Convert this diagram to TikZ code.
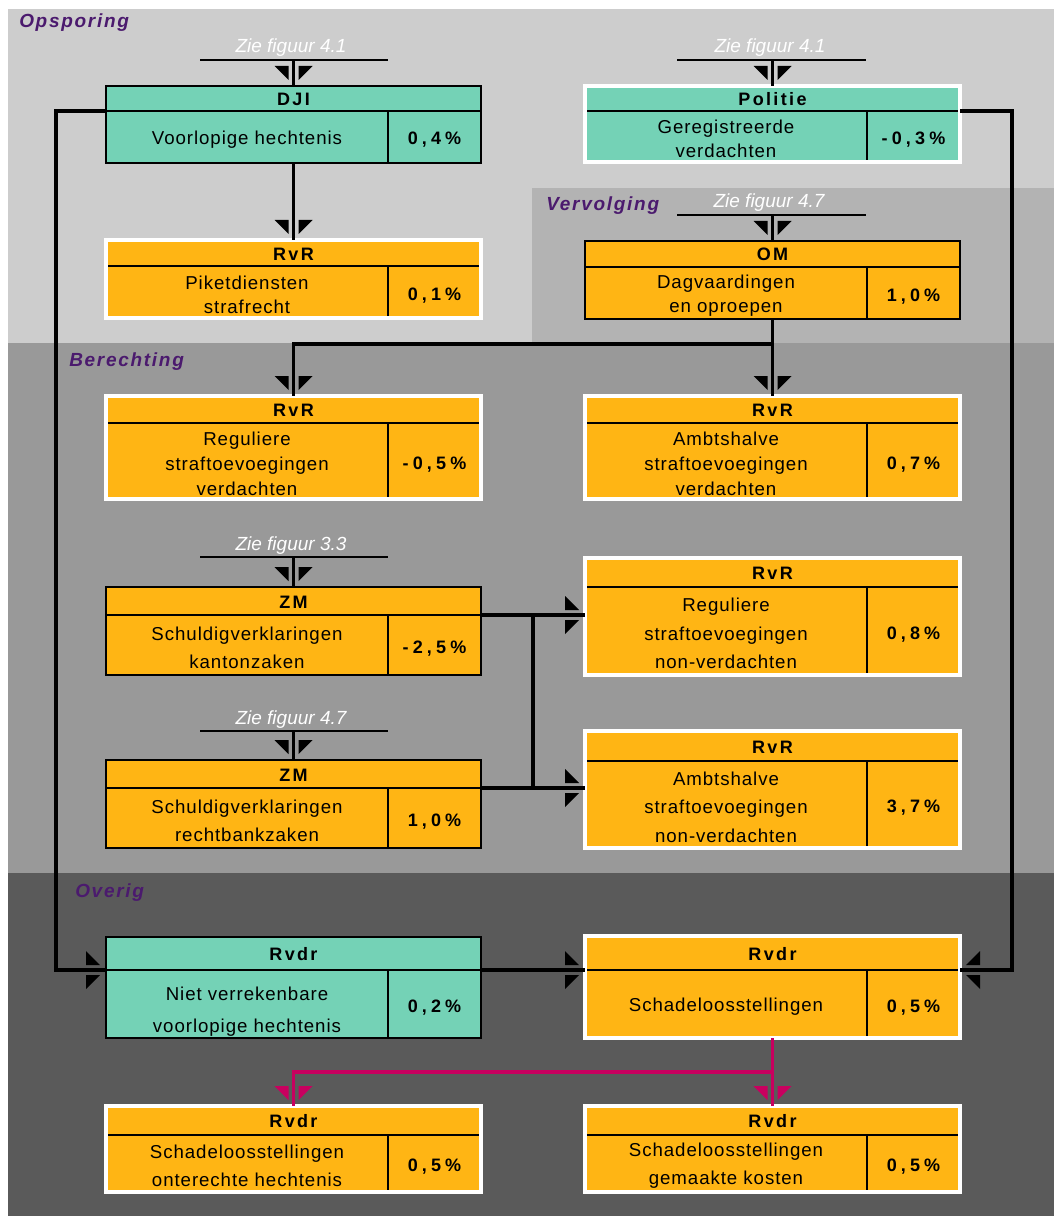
\documentclass[tikz,border=0pt]{standalone}
\usepackage{fontspec}
\setmainfont{Liberation Sans}
\newfontfamily\bodyfont[LetterSpace=5]{Liberation Sans}
\newfontfamily\headfont[LetterSpace=13]{Liberation Sans}
\newfontfamily\pctfont[LetterSpace=23]{Liberation Sans}
\newfontfamily\secfont[LetterSpace=9]{Liberation Sans}
\newfontfamily\ziefont{Liberation Sans}
\definecolor{grn}{HTML}{74D2B6}
\definecolor{org}{HTML}{FFB514}
\definecolor{bgA}{HTML}{CDCDCD}
\definecolor{bgB}{HTML}{B3B3B3}
\definecolor{bgC}{HTML}{999999}
\definecolor{bgD}{HTML}{5A5A5A}
\definecolor{purp}{HTML}{4B1A6E}
\definecolor{mag}{HTML}{C8005F}

\tikzset{
  wire/.style={line width=2.8pt, black},
  mwire/.style={line width=2.6pt, mag},
  zieline/.style={line width=1.5pt, black},
  innerline/.style={line width=1.7pt, black},
  blackborder/.style={line width=1.8pt, black},
  whiteborder/.style={line width=3pt, white},
  headtxt/.style={font=\headfont\bfseries\fontsize{13.5}{16}\selectfont, anchor=base, inner sep=0pt},
  pcttxt/.style={font=\pctfont\bfseries\fontsize{13.5}{16}\selectfont, anchor=base, inner sep=0pt},
  bodytxt/.style={font=\bodyfont\fontsize{14}{#1}\selectfont, align=center, inner sep=0pt},
  zietxt/.style={font=\ziefont\itshape\fontsize{14.25}{16}\selectfont, white, anchor=base, inner sep=0pt},
  sectxt/.style={font=\secfont\bfseries\itshape\fontsize{14.25}{16}\selectfont, purp, anchor=base west, inner sep=0pt},
  splitarrow/.pic={
    \fill (-20,5) -- (-20,19) -- (-6,5) -- cycle;
    \fill (-20,-5) -- (-20,-19) -- (-6,-5) -- cycle;
  },
}

\newcommand\flowbox[9]{%
  \node[fill=#6, inner sep=0pt, outer sep=0pt, anchor=north west,
        minimum width=281.25pt, minimum height={(#5-#3)*0.75pt}] (#1) at (#2,#3) {};
  \coordinate (#1-hw) at (#2,#4);
  \coordinate (#1-he) at ({#2+375},#4);
  \draw[innerline] (#1-hw) -- (#1-he);
  \draw[innerline] ({#2+282},#4) -- ({#2+282},#5);
  \draw[#7] (#1.north west) rectangle (#1.south east);
  \node[headtxt] (#1-t) at ({#2+187.5},{(#3+#4)/2+7}) {#8};
  \node[pcttxt] (#1-p) at ({#2+328.5},{(#4+#5)/2+8}) {#9};
}
\newcommand\flowbody[6]{%
  \node[bodytxt=#5] (#1-b) at ({#2+141},{(#3+#4)/2+2.5}) {#6};
}

\begin{document}
\begin{tikzpicture}[x=0.75pt, y=-0.75pt]
\useasboundingbox (0,0) rectangle (1054,1216);
\fill[white] (0,0) rectangle (1054,1216);
% section backgrounds
\fill[bgA] (8,9) rectangle (1054,343);
\fill[bgB] (532,188) rectangle (1054,343);
\fill[bgC] (8,343) rectangle (1054,873);
\fill[bgD] (8,873) rectangle (1054,1216);

\node[sectxt] (s1) at (19,28) {Opsporing};
\node[sectxt] (s2) at (546,211) {Vervolging};
\node[sectxt] (s3) at (69,366) {Berechting};
\node[sectxt] (s4) at (75,897) {Overig};

% boxes
\flowbox{dji}{106}{86}{111}{163}{grn}{blackborder}{DJI}{0,4\%}
\flowbody{dji}{106}{111}{163}{18pt}{Voorlopige hechtenis}
\flowbox{pol}{585}{86}{111}{162}{grn}{whiteborder}{Politie}{-0,3\%}
\flowbody{pol}{585}{111}{162}{18pt}{Geregistreerde\\verdachten}
\flowbox{piket}{106}{240}{266}{318}{org}{whiteborder}{RvR}{0,1\%}
\flowbody{piket}{106}{266}{318}{18pt}{Piketdiensten\\strafrecht}
\flowbox{om}{585}{241}{267}{319}{org}{blackborder}{OM}{1,0\%}
\flowbody{om}{585}{267}{319}{18pt}{Dagvaardingen\\en oproepen}
\flowbox{rvra}{106}{396}{423}{499}{org}{whiteborder}{RvR}{-0,5\%}
\flowbody{rvra}{106}{423}{499}{18.75pt}{Reguliere\\straftoevoegingen\\verdachten}
\flowbox{rvrb}{585}{396}{423}{499}{org}{whiteborder}{RvR}{0,7\%}
\flowbody{rvrb}{585}{423}{499}{18.75pt}{Ambtshalve\\straftoevoegingen\\verdachten}
\flowbox{zma}{106}{587}{615}{675}{org}{blackborder}{ZM}{-2,5\%}
\flowbody{zma}{106}{615}{675}{21pt}{Schuldigverklaringen\\kantonzaken}
\flowbox{rvrc}{585}{558}{587}{675}{org}{whiteborder}{RvR}{0,8\%}
\flowbody{rvrc}{585}{587}{675}{21.4pt}{Reguliere\\straftoevoegingen\\non-verdachten}
\flowbox{zmb}{106}{760}{788}{848}{org}{blackborder}{ZM}{1,0\%}
\flowbody{zmb}{106}{788}{848}{21pt}{Schuldigverklaringen\\rechtbankzaken}
\flowbox{rvrd}{585}{731}{761}{848}{org}{whiteborder}{RvR}{3,7\%}
\flowbody{rvrd}{585}{761}{848}{21.4pt}{Ambtshalve\\straftoevoegingen\\non-verdachten}
\flowbox{rvdra}{106}{937}{970}{1038}{grn}{blackborder}{Rvdr}{0,2\%}
\flowbody{rvdra}{106}{981}{1038}{24pt}{Niet verrekenbare\\voorlopige hechtenis}
\flowbox{rvdrb}{585}{936}{970}{1038}{org}{whiteborder}{Rvdr}{0,5\%}
\flowbody{rvdrb}{585}{970}{1038}{18pt}{Schadeloosstellingen}
\flowbox{rvdrc}{106}{1106}{1135}{1192}{org}{whiteborder}{Rvdr}{0,5\%}
\flowbody{rvdrc}{106}{1135}{1192}{21pt}{Schadeloosstellingen\\onterechte hechtenis}
\flowbox{rvdrd}{585}{1106}{1135}{1192}{org}{whiteborder}{Rvdr}{0,5\%}
\flowbody{rvdrd}{585}{1135}{1192}{21pt}{Schadeloosstellingen\\gemaakte kosten}

% "Zie figuur" inputs
\coordinate (za1) at (200,60); \coordinate (za2) at (388,60);
\coordinate (zb1) at (677,60); \coordinate (zb2) at (866,60);
\coordinate (zc1) at (677,215); \coordinate (zc2) at (866,215);
\coordinate (zd1) at (200,557); \coordinate (zd2) at (388,557);
\coordinate (ze1) at (200,731); \coordinate (ze2) at (388,731);
\draw[zieline] (za1) -- (za2);
\draw[zieline] (zb1) -- (zb2);
\draw[zieline] (zc1) -- (zc2);
\draw[zieline] (zd1) -- (zd2);
\draw[zieline] (ze1) -- (ze2);
\node[zietxt] (ziea) at (291,53) {Zie figuur 4.1};
\node[zietxt] (zieb) at (770,53) {Zie figuur 4.1};
\node[zietxt] (ziec) at (769,208) {Zie figuur 4.7};
\node[zietxt] (zied) at (291,550) {Zie figuur 3.3};
\node[zietxt] (ziee) at (291,724) {Zie figuur 4.7};
\draw[wire] (dji.north |- za1) -- (dji.north);
\draw[wire] (pol.north |- zb1) -- (pol.north);
\draw[wire] (om.north |- zc1) -- (om.north);
\draw[wire] (zma.north |- zd1) -- (zma.north);
\draw[wire] (zmb.north |- ze1) -- (zmb.north);

% connectors
\coordinate (yj) at (0,344);
\coordinate (xz) at (533,0);
\coordinate (xl) at (56,0);
\coordinate (xr) at (1012,0);
\coordinate (ym) at (0,1072);
\draw[wire] (dji.south) -- (piket.north);
\draw[wire] (om.south) -- (om.south |- yj) -| (rvra.north);
\draw[wire] (om.south |- yj) -- (rvrb.north);
\draw[wire] (zma-he) -- (zma-he -| rvrc.west);
\draw[wire] (zmb-he) -- (zmb-he -| rvrd.west);
\draw[wire] (zma-he -| xz) -- (zmb-he -| xz);
\draw[wire] (dji-hw) -- (dji-hw -| xl) |- (rvdra-hw);
\draw[wire] (rvdra-he) -- (rvdrb-hw);
\draw[wire] (pol-he) -- (pol-he -| xr) |- (rvdrb-he);
\draw[mwire] (rvdrb.south) -- (rvdrb.south |- ym) -| (rvdrc.north);
\draw[mwire] (rvdrb.south |- ym) -- (rvdrd.north);

% split arrowheads
\pic[rotate=-90] at (dji.north) {splitarrow};
\pic[rotate=-90] at (pol.north) {splitarrow};
\pic[rotate=-90] at (piket.north) {splitarrow};
\pic[rotate=-90] at (om.north) {splitarrow};
\pic[rotate=-90] at (rvra.north) {splitarrow};
\pic[rotate=-90] at (rvrb.north) {splitarrow};
\pic[rotate=-90] at (zma.north) {splitarrow};
\pic[rotate=-90] at (zmb.north) {splitarrow};
\pic at (zma-he -| rvrc.west) {splitarrow};
\pic at (zmb-he -| rvrd.west) {splitarrow};
\pic at (rvdra-hw) {splitarrow};
\pic at (rvdrb-hw) {splitarrow};
\pic[rotate=180] at (rvdrb-he) {splitarrow};
\pic[rotate=-90, color=mag] at (rvdrc.north) {splitarrow};
\pic[rotate=-90, color=mag] at (rvdrd.north) {splitarrow};
\end{tikzpicture}
\end{document}
